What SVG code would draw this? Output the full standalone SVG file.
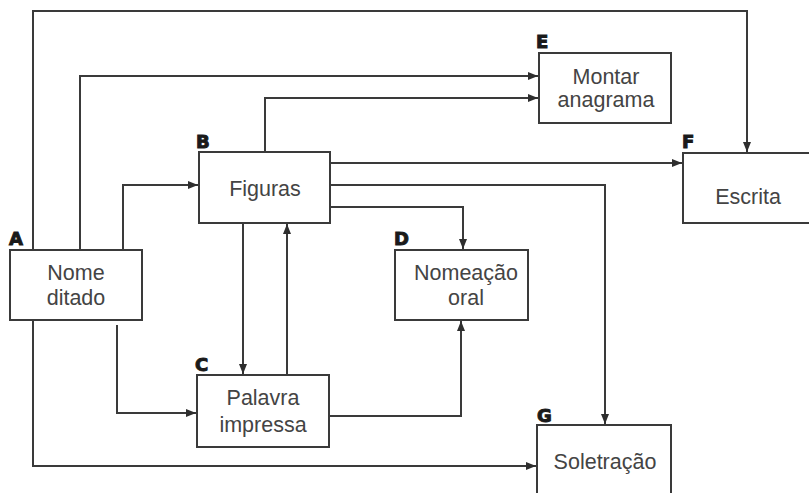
<svg xmlns="http://www.w3.org/2000/svg" width="809" height="493" viewBox="0 0 809 493">
<defs>
<marker id="arr" markerUnits="userSpaceOnUse" markerWidth="11" markerHeight="9" refX="10" refY="4.5" orient="auto">
<path d="M0,0.5 L10,4.5 L0,8.5 z" fill="#2e2e2e"/>
</marker>
<style>
.box{fill:#fff;stroke:#3a3a3a;stroke-width:2}
.t{font-family:"Liberation Sans",Arial,sans-serif;font-size:21.5px;fill:#444;text-anchor:middle}
.lbl{font-family:"DejaVu Sans",sans-serif;font-weight:bold;font-size:18px;fill:#1a1a1a;stroke:#1a1a1a;stroke-width:1}
.c{fill:none;stroke:#3a3a3a;stroke-width:2;marker-end:url(#arr)}
</style>
</defs>
<rect width="809" height="493" fill="#fff"/>
<g id="connectors">
<path class="c" d="M33,250 V11 H747 V152"/>
<path class="c" d="M80,250 V76 H538"/>
<path class="c" d="M123,250 V185 H198"/>
<path class="c" d="M265,152 V98 H538"/>
<path class="c" d="M331,163 H682"/>
<path class="c" d="M331,185 H605 V424"/>
<path class="c" d="M331,207 H463 V249"/>
<path class="c" d="M243,224 V374"/>
<path class="c" d="M287,375 V224"/>
<path class="c" d="M330,416 H461 V321"/>
<path class="c" d="M117,325 V413 H196"/>
<path class="c" d="M33,321 V466 H536"/>
</g>
<g id="A">
<rect class="box" x="10" y="250" width="132" height="70"/>
<text class="lbl" x="9" y="245">A</text>
<text class="t" x="76" y="280">Nome</text>
<text class="t" x="76" y="305">ditado</text>
</g>
<g id="B">
<rect class="box" x="199" y="152" width="131" height="71"/>
<text class="lbl" x="196" y="148">B</text>
<text class="t" x="265" y="196">Figuras</text>
</g>
<g id="C">
<rect class="box" x="197" y="375" width="132" height="72"/>
<text class="lbl" x="195" y="371">C</text>
<text class="t" x="263" y="405">Palavra</text>
<text class="t" x="263" y="432">impressa</text>
</g>
<g id="D">
<rect class="box" x="395" y="250" width="133" height="70"/>
<text class="lbl" x="394" y="245">D</text>
<text class="t" x="466" y="280">Nomeação</text>
<text class="t" x="466" y="305">oral</text>
</g>
<g id="E">
<rect class="box" x="539" y="53" width="132" height="70"/>
<text class="lbl" x="536" y="48">E</text>
<text class="t" x="606" y="84">Montar</text>
<text class="t" x="606" y="107">anagrama</text>
</g>
<g id="F">
<rect class="box" x="683" y="153" width="132" height="70"/>
<text class="lbl" x="682" y="148">F</text>
<text class="t" x="748" y="204">Escrita</text>
</g>
<g id="G">
<rect class="box" x="537" y="425" width="134" height="80"/>
<text class="lbl" x="537" y="422">G</text>
<text class="t" x="605" y="469">Soletração</text>
</g>
</svg>
